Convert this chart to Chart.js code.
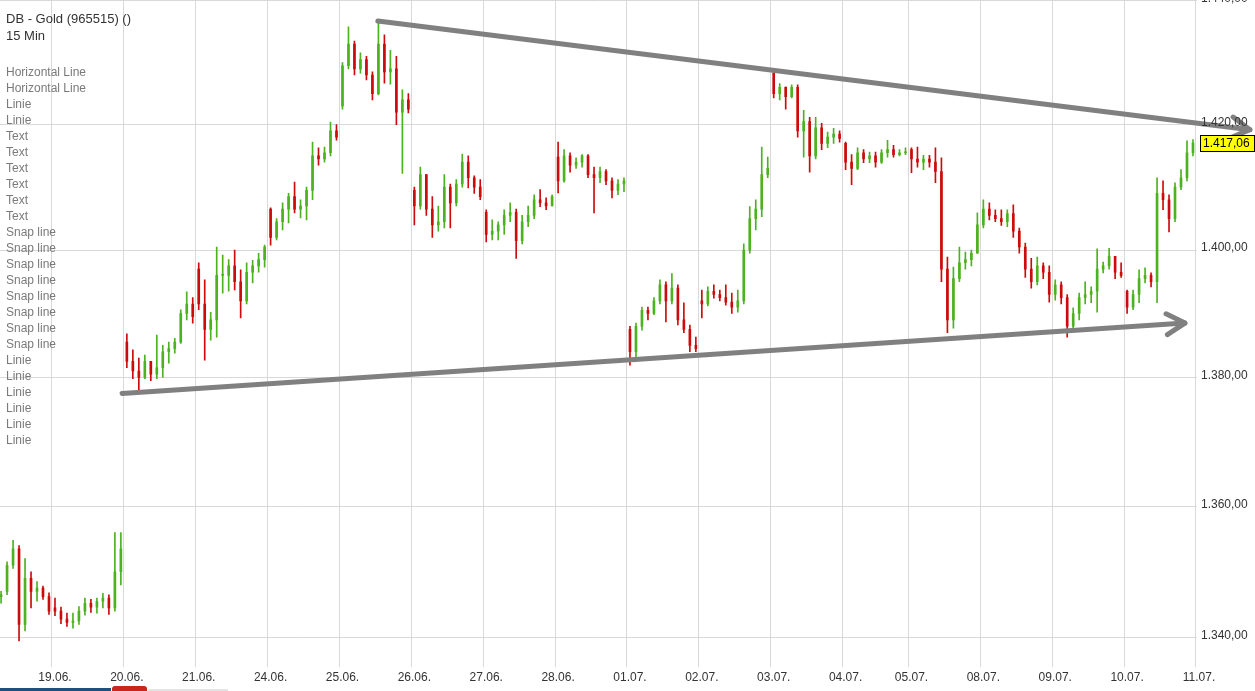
<!DOCTYPE html>
<html>
<head>
<meta charset="utf-8">
<title>DB - Gold (965515) 15 Min</title>
<script src="https://cdn.jsdelivr.net/npm/chart.js@4.4.1/dist/chart.umd.min.js"></script>
<style>
  html, body { margin: 0; padding: 0; background: #fff; overflow: hidden; }
  #wrap { position: relative; width: 1255px; height: 691px; }
  #info { position: absolute; left: 6px; top: 0; font: 12px "Liberation Sans", Arial, sans-serif; color: #7a7a7a; pointer-events: none; }
  #info div { position: absolute; left: 0; white-space: nowrap; line-height: 16px; }
  #info .head { color: #333; font-size: 13px; }
  .bar { position: absolute; }
</style>
</head>
<body>
<div id="wrap">
  <canvas id="goldChart"></canvas>
  <div id="info"></div>
  <div class="bar" style="left:0;top:688px;width:112px;height:3px;background:#1f4f7d"></div>
  <div class="bar" style="left:111px;top:685px;width:35px;height:6px;background:#c9261d;border:1px solid #fff;border-bottom:0;border-radius:4px 4px 0 0"></div>
  <div class="bar" style="left:148px;top:689px;width:80px;height:2px;background:#e4e4e4"></div>
</div>
<script>
// Sessions shown on the x axis (18.06. is only partly visible on the left)
const sessions = ['18.06.', '19.06.', '20.06.', '21.06.', '24.06.', '25.06.', '26.06.', '27.06.', '28.06.',
    '01.07.', '02.07.', '03.07.', '04.07.', '05.07.', '08.07.', '09.07.', '10.07.', '11.07.'];
const sessionCandles = [9, 12, 12, 12, 12, 12, 12, 12, 12, 12, 12, 12, 11, 12, 12, 12, 12, 0];

// Price ticks on the right axis
const yTicks = [1340, 1360, 1380, 1400, 1420, 1440];

// OHLC, one row per session
const open = [
    1346.2, 1347, 1351, 1353.5, 1342, 1349, 1347, 1347.5, 1346.2,
    1344.5, 1344, 1342.8, 1342.3, 1342.5, 1344, 1345.2, 1344.6, 1345.5, 1346, 1344.5, 1350,
    1385.5, 1382.5, 1381, 1380, 1382.5, 1380.5, 1381.5, 1384, 1384.5, 1385.5, 1390, 1391.5,
    1397, 1391.5, 1387.5, 1389, 1396, 1396, 1397.5, 1395, 1392, 1396.5, 1397.5, 1398.5,
    1406.5, 1402, 1404.5, 1406.5, 1408.5, 1406.5, 1407, 1409.5, 1415, 1414.5, 1415.5, 1419,
    1423, 1429.5, 1433, 1429, 1430.5, 1428, 1425, 1433, 1428.5, 1429, 1422, 1424,
    1409.5, 1407, 1412, 1406.5, 1404, 1404.5, 1410, 1407.5, 1410.5, 1414, 1411.5, 1410,
    1406, 1402.5, 1403, 1404, 1405.5, 1406, 1401.5, 1404.5, 1405.5, 1408, 1407.5, 1407,
    1414.8, 1411, 1415, 1413.5, 1414, 1415, 1412, 1411.5, 1412.5, 1411, 1409.5, 1410.5,
    1387.5, 1384, 1388, 1390.5, 1390, 1392, 1394.5, 1392, 1394, 1389, 1387.5, 1385,
    1392, 1391.5, 1393.5, 1393, 1392.5, 1391.8, 1391, 1392, 1400, 1405, 1406.5, 1412,
    1428.3, 1425, 1426, 1424.5, 1426, 1419, 1420.5, 1415, 1419.5, 1417, 1418, 1418.5,
    1417, 1414, 1413, 1415.5, 1414.5, 1415, 1414, 1415.5, 1416, 1415.2, 1415.5,
    1416, 1414.5, 1414, 1414.5, 1414, 1412.5, 1397, 1389, 1395.5, 1398, 1398.5, 1399.5,
    1404, 1406.5, 1405.5, 1405, 1404.5, 1405.8, 1403, 1400.5, 1397, 1395, 1397.5, 1396.5,
    1393, 1394.5, 1392.5, 1388, 1390, 1392.5, 1393, 1393.5, 1397, 1397.5, 1399, 1396.5,
    1393.5, 1391, 1393, 1395.5, 1396, 1395, 1409, 1408, 1405, 1410, 1411.5, 1415.5
];
const high = [
    1347, 1351.5, 1354.8, 1354, 1352, 1350, 1348.5, 1347.8, 1346.8,
    1346, 1344.6, 1343.7, 1343.7, 1344.7, 1346, 1345.8, 1346, 1346.7, 1346.5, 1356, 1356,
    1386.8, 1384.3, 1383, 1383.5, 1382.5, 1386.6, 1385, 1385.5, 1386.1, 1390.6, 1393.4, 1392.5,
    1398, 1395.3, 1390.2, 1400.5, 1399.2, 1398.5, 1400, 1396.9, 1398, 1398.4, 1399.5, 1400.8,
    1406.7, 1405, 1407.5, 1409, 1410.8, 1408, 1410, 1417.2, 1416.3, 1416.4, 1420.4, 1420,
    1430, 1435.8, 1433.5, 1431.6, 1431, 1428.5, 1436.6, 1434.5, 1432, 1431, 1425.6, 1425,
    1410, 1413.2, 1412, 1408.5, 1407, 1412, 1410.5, 1411.2, 1415.3, 1415, 1411.8, 1411.2,
    1406.4, 1404.8, 1404.5, 1406.4, 1407.5, 1406.5, 1405.5, 1407, 1408.8, 1409.6, 1408.3, 1408.8,
    1417.2, 1416, 1415.5, 1414.7, 1415.2, 1415.2, 1413.2, 1413.2, 1412.8, 1411.5, 1411.2, 1411.5,
    1388, 1388.5, 1391, 1391, 1392.5, 1395.3, 1395, 1396.3, 1394.5, 1391.7, 1388.2, 1386.3,
    1393.7, 1394.2, 1394.5, 1393.7, 1394.5, 1393.2, 1393.7, 1401, 1406.9, 1408, 1416.4, 1414.8,
    1428.5, 1426.6, 1426.1, 1426.4, 1426.4, 1422.3, 1421.2, 1421.2, 1420.2, 1418.8, 1419.4, 1419,
    1417.2, 1415.2, 1416.3, 1416, 1415.6, 1415.6, 1416, 1417.5, 1416.7, 1416, 1416.3,
    1416.3, 1416.4, 1415.1, 1415.1, 1416.3, 1414.7, 1398.9, 1397.3, 1400.5, 1399.7, 1400, 1405.9,
    1408, 1407.5, 1406.4, 1406.4, 1406.4, 1407.2, 1403.5, 1401.1, 1398.7, 1398.9, 1398, 1397.5,
    1395.3, 1395, 1393, 1390.9, 1393.2, 1395, 1394.2, 1400.2, 1398.1, 1400.3, 1399, 1398,
    1393.7, 1393.7, 1396.9, 1397.2, 1396.4, 1411.5, 1411, 1408.8, 1410.7, 1412.8, 1417.4, 1417.6
];
const low = [
    1345.2, 1346.5, 1350.5, 1339.5, 1341, 1344.5, 1345.5, 1345.8, 1343.5,
    1343.3, 1342.1, 1341.7, 1341.4, 1342, 1343.4, 1343.8, 1343.7, 1344.5, 1343.5, 1344, 1348,
    1381.5, 1379.8, 1378, 1379.8, 1379.5, 1379.8, 1380, 1382.2, 1383.8, 1385.3, 1389, 1388.5,
    1390.6, 1382.7, 1385.8, 1386.3, 1393.2, 1393.5, 1393.7, 1389.3, 1391.5, 1394.8, 1396.5, 1397.3,
    1400.8, 1401.6, 1403.2, 1404.3, 1405.9, 1405.1, 1404.8, 1408, 1413.5, 1414, 1415, 1417.5,
    1422.5, 1429, 1428, 1428.3, 1427.2, 1424, 1424.8, 1426.7, 1426.5, 1420, 1412.2, 1421.9,
    1404, 1406.5, 1405.5, 1402, 1403, 1403.5, 1403.5, 1407, 1410, 1409.9, 1409, 1408,
    1401.3, 1401.6, 1401.6, 1402.5, 1404.5, 1398.7, 1401, 1403.7, 1405, 1406.9, 1406.4, 1407,
    1409.1, 1410.8, 1412.4, 1413, 1413.2, 1411.5, 1405.9, 1410.7, 1410.4, 1408.3, 1408.8, 1409.3,
    1381.9, 1382.5, 1387.4, 1389, 1389.8, 1391.5, 1388.7, 1391.5, 1388.2, 1387, 1384, 1384,
    1389.3, 1391.2, 1392.4, 1392, 1391.3, 1390, 1390.2, 1391.5, 1399.5, 1403.2, 1405.3, 1411.5,
    1424.3, 1424, 1422.5, 1424.3, 1418, 1414.8, 1412.4, 1414.5, 1416, 1416.3, 1417, 1417.2,
    1412.8, 1410.4, 1412.8, 1413.9, 1413.9, 1413.2, 1413.8, 1414.8, 1414.8, 1415, 1415.2,
    1412.3, 1413.2, 1412.8, 1413.2, 1410.7, 1395, 1387, 1387.7, 1395, 1397, 1397.5, 1399.5,
    1403.5, 1404.8, 1404.5, 1403.9, 1403.7, 1402, 1399.5, 1395.7, 1394, 1394.5, 1395.5, 1391.8,
    1392.1, 1391.5, 1386.3, 1387.4, 1389, 1391.5, 1391.7, 1390.2, 1396.4, 1397, 1395.5, 1395.7,
    1390, 1390.6, 1391.7, 1394.8, 1394.2, 1391.7, 1406.4, 1402.9, 1404.5, 1409.6, 1411, 1415
];
const close = [
    1346.5, 1351, 1353.5, 1342, 1349, 1347, 1347.5, 1346.2, 1344,
    1344, 1342.8, 1342.3, 1342.5, 1344, 1345.2, 1344.6, 1345.5, 1346, 1344.5, 1350, 1353.5,
    1382.5, 1381, 1380, 1382.5, 1380.5, 1381.5, 1384, 1384.5, 1385.5, 1390, 1391.5, 1389.5,
    1391.5, 1387.5, 1389, 1396, 1396, 1397.5, 1395, 1392, 1396.5, 1397.5, 1398.5, 1400.5,
    1402, 1404.5, 1406.5, 1408.5, 1406.5, 1407, 1409.5, 1415, 1414.5, 1415.5, 1419, 1418,
    1429.5, 1433, 1429, 1430.5, 1428, 1425, 1433, 1428.5, 1429, 1422, 1424, 1422.5,
    1407, 1412, 1406.5, 1404, 1404.5, 1410, 1407.5, 1410.5, 1414, 1411.5, 1410, 1408.5,
    1402.5, 1403, 1404, 1405.5, 1406, 1401.5, 1404.5, 1405.5, 1408, 1407.5, 1407, 1408.5,
    1411, 1415, 1413.5, 1414, 1415, 1412, 1411.5, 1412.5, 1411, 1409.5, 1410.5, 1411,
    1384, 1388, 1390.5, 1390, 1392, 1394.5, 1392, 1394, 1389, 1387.5, 1385, 1384.5,
    1391.5, 1393.5, 1393, 1392.5, 1391.8, 1391, 1392, 1400, 1405, 1406.5, 1412, 1413,
    1425, 1426, 1424.5, 1426, 1419, 1420.5, 1415, 1419.5, 1417, 1418, 1418.5, 1417.8,
    1414, 1413, 1415.5, 1414.5, 1415, 1414, 1415.5, 1416, 1415.2, 1415.5, 1415.6,
    1414.5, 1414, 1414.5, 1414, 1412.5, 1397, 1389, 1395.5, 1398, 1398.5, 1399.5, 1404,
    1406.5, 1405.5, 1405, 1404.5, 1405.8, 1403, 1400.5, 1397, 1395, 1397.5, 1396.5, 1393,
    1394.5, 1392.5, 1388, 1390, 1392.5, 1393, 1393.5, 1397, 1397.5, 1399, 1396.5, 1396,
    1391, 1393, 1395.5, 1396, 1395, 1409, 1408, 1405, 1410, 1411.5, 1415.5, 1417.06
];

// Drawn trend lines: [candle position, price]
const resistanceLine = [[62.9, 1436.75], [208.5, 1419.2]];
const supportLine = [[20.2, 1377.5], [197.65, 1388.5]];

// Object list shown top left
const chartTitle = 'DB - Gold (965515) ()';
const chartPeriod = '15 Min';
const drawnObjects = ['Horizontal Line', 'Horizontal Line', 'Linie', 'Linie',
    'Text', 'Text', 'Text', 'Text', 'Text', 'Text',
    'Snap line', 'Snap line', 'Snap line', 'Snap line', 'Snap line', 'Snap line', 'Snap line', 'Snap line',
    'Linie', 'Linie', 'Linie', 'Linie', 'Linie', 'Linie'];

const upColor = '#4db21f';
const downColor = '#cc0c0c';
const gridColor = '#d9d9d9';
const fontFamily = '"Liberation Sans", Arial, sans-serif';

// Object list overlay
const info = document.getElementById('info');
function addLine(text, top, cls) {
    const d = document.createElement('div');
    d.textContent = text;
    d.style.top = top + 'px';
    if (cls) d.className = cls;
    info.appendChild(d);
}
addLine(chartTitle, 11, 'head');
addLine(chartPeriod, 28, 'head');
drawnObjects.forEach((t, i) => addLine(t, 64 + i * 16));

// Day boundaries on the candle axis
const dayTicks = [];
const dayTickLabels = {};
let start = 0;
sessions.forEach((s, i) => {
    if (i > 0) {
        dayTicks.push(start - 0.5);
        dayTickLabels[start - 0.5] = s;
    }
    start += sessionCandles[i];
});

function fmt(v) {
    const parts = v.toFixed(2).split('.');
    return parts[0].replace(/\B(?=(\d{3})+(?!\d))/g, '.') + ',' + parts[1];
}

const isUp = i => close[i] >= open[i];
const candleColor = ctx => isUp(ctx.dataIndex) ? upColor : downColor;

const wicks = open.map((o, i) => ({ x: i, y: [low[i], high[i]] }));
const bodies = open.map((o, i) => ({ x: i, y: [Math.min(o, close[i]), Math.max(o, close[i])] }));
const toPoints = line => line.map(p => ({ x: p[0], y: p[1] }));

// y labels and last price box on the right
const priceAxisLabels = {
    id: 'priceAxisLabels',
    afterDraw(chart) {
        const { ctx, chartArea } = chart;
        const y = chart.scales.y;
        ctx.save();
        ctx.font = '12px ' + fontFamily;
        ctx.textAlign = 'left';
        ctx.textBaseline = 'middle';
        ctx.fillStyle = '#333';
        yTicks.forEach(v => ctx.fillText(fmt(v), chartArea.right + 4, y.getPixelForValue(v) - 2));

        const last = close[close.length - 1];
        const py = Math.round(y.getPixelForValue(last));
        ctx.fillStyle = '#ffff00';
        ctx.fillRect(chartArea.right + 3.5, py - 7.5, 54, 16);
        ctx.strokeStyle = '#000';
        ctx.lineWidth = 1;
        ctx.strokeRect(chartArea.right + 3.5, py - 7.5, 54, 16);
        ctx.fillStyle = '#000';
        ctx.fillText(fmt(last), chartArea.right + 6, py + 1);
        ctx.restore();
    }
};

// open arrow heads at the end of the trend lines
const arrowHeads = {
    id: 'arrowHeads',
    afterDatasetsDraw(chart) {
        const ctx = chart.ctx;
        chart.data.datasets.forEach((ds, i) => {
            if (!ds.arrow) return;
            const pts = chart.getDatasetMeta(i).data;
            const a = pts[pts.length - 2], b = pts[pts.length - 1];
            const ang = Math.atan2(b.y - a.y, b.x - a.x);
            ctx.save();
            ctx.strokeStyle = ds.borderColor;
            ctx.lineWidth = ds.borderWidth;
            ctx.lineCap = 'round';
            ctx.lineJoin = 'round';
            ctx.beginPath();
            ctx.moveTo(b.x - 21 * Math.cos(ang - 0.52), b.y - 21 * Math.sin(ang - 0.52));
            ctx.lineTo(b.x, b.y);
            ctx.lineTo(b.x - 21 * Math.cos(ang + 0.52), b.y - 21 * Math.sin(ang + 0.52));
            ctx.stroke();
            ctx.restore();
        });
    }
};

Chart.defaults.font.family = fontFamily;
Chart.defaults.font.size = 12;

new Chart(document.getElementById('goldChart'), {
    type: 'bar',
    data: {
        datasets: [
            {
                type: 'line',
                data: toPoints(resistanceLine),
                borderColor: '#808080',
                borderWidth: 5,
                borderCapStyle: 'round',
                pointRadius: 0,
                clip: false,
                arrow: true,
                order: 0
            },
            {
                type: 'line',
                data: toPoints(supportLine),
                borderColor: '#808080',
                borderWidth: 5,
                borderCapStyle: 'round',
                pointRadius: 0,
                clip: false,
                arrow: true,
                order: 0
            },
            {
                data: bodies,
                backgroundColor: candleColor,
                barThickness: 2,
                minBarLength: 1,
                grouped: false,
                order: 1
            },
            {
                data: wicks,
                backgroundColor: candleColor,
                barThickness: 1,
                grouped: false,
                order: 2
            }
        ]
    },
    options: {
        responsive: true,
        maintainAspectRatio: false,
        animation: false,
        events: [],
        layout: { padding: { left: 0, top: 0, right: 58, bottom: 2 } },
        plugins: {
            legend: { display: false },
            tooltip: { enabled: false }
        },
        scales: {
            x: {
                type: 'linear',
                min: -0.18,
                max: 199.67,
                bounds: 'data',
                offset: false,
                grid: { color: gridColor, drawTicks: false, offset: false },
                border: { display: false },
                afterBuildTicks: scale => { scale.ticks = dayTicks.map(v => ({ value: v })); },
                ticks: {
                    autoSkip: false,
                    maxRotation: 0,
                    padding: 4,
                    labelOffset: 3,
                    color: '#333',
                    callback: v => dayTickLabels[v] || ''
                }
            },
            y: {
                type: 'logarithmic',
                position: 'right',
                min: 1335.6,
                max: 1440.16,
                bounds: 'data',
                grid: { color: gridColor, drawTicks: false },
                border: { display: false },
                afterBuildTicks: scale => { scale.ticks = yTicks.map(v => ({ value: v })); },
                ticks: { display: false }
            }
        }
    },
    plugins: [priceAxisLabels, arrowHeads]
});
</script>
</body>
</html>
